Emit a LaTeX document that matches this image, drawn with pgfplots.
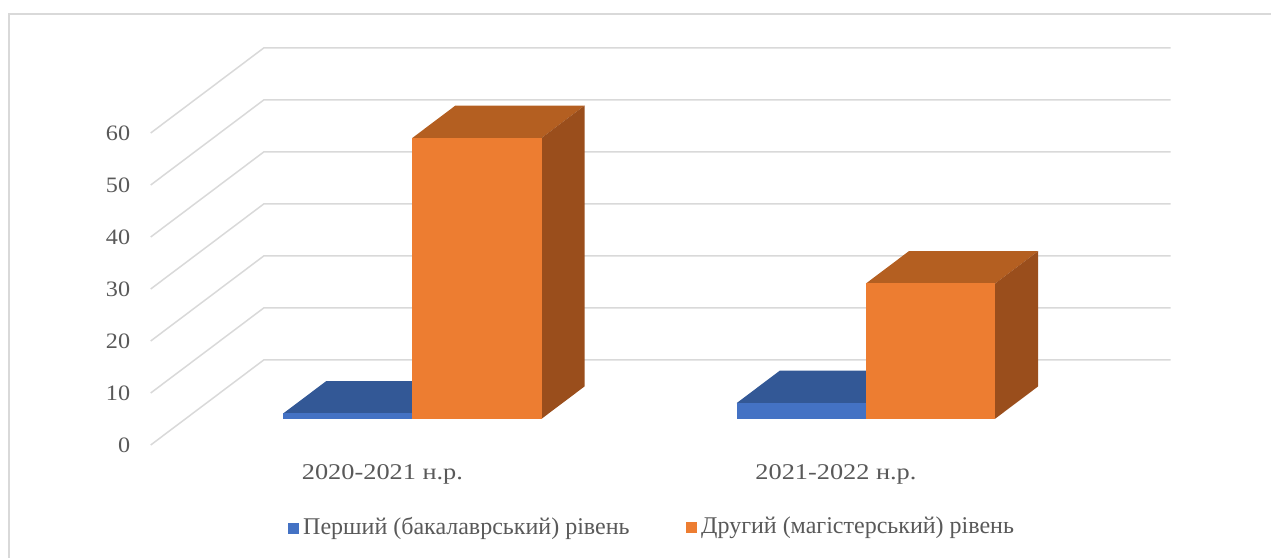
\documentclass[border=0pt]{standalone}
\usepackage{pgfplots}
\pgfplotsset{compat=1.18}
\usepackage{fontspec}
\setmainfont{Liberation Serif}
\definecolor{bfront}{HTML}{4472C4}
\definecolor{btop}{HTML}{335896}
\definecolor{ofront}{HTML}{ED7D31}
\definecolor{otop}{HTML}{B45F21}
\definecolor{oside}{HTML}{9A4E1C}
\definecolor{gridc}{HTML}{D9D9D9}
\definecolor{txt}{HTML}{595959}
% bar depth from d0 to d1
\newcommand{\dA}{0.31}
\newcommand{\dB}{0.69}
\newcommand{\blueBar}[3]{%
  \addplot3[fill=btop, draw=none, forget plot] coordinates {(#1,\dA,#3) (#2,\dA,#3) (#2,\dB,#3) (#1,\dB,#3)};
  \addplot3[fill=bfront, draw=none, forget plot] coordinates {(#1,\dA,0) (#2,\dA,0) (#2,\dA,#3) (#1,\dA,#3)};
}
\newcommand{\orangeBar}[3]{%
  \addplot3[fill=otop, draw=none, forget plot] coordinates {(#1,\dA,#3) (#2,\dA,#3) (#2,\dB,#3) (#1,\dB,#3)};
  \addplot3[fill=oside, draw=none, forget plot] coordinates {(#2,\dA,0) (#2,\dB,0) (#2,\dB,#3) (#2,\dA,#3)};
  \addplot3[fill=ofront, draw=none, forget plot] coordinates {(#1,\dA,0) (#2,\dA,0) (#2,\dA,#3) (#1,\dA,#3)};
}
\begin{document}
\begin{tikzpicture}[x=1bp,y=1bp]
\begin{axis}[
  x={(453.5bp,0bp)}, y={(113bp,85bp)}, z={(0bp,5.2bp)},
  xmin=0, xmax=2, ymin=0, ymax=1, zmin=0, zmax=60,
  hide axis, clip=false,
]
\coordinate (O) at (axis cs:0,0,0);
% gridlines (left wall + back wall)
\pgfplotsinvokeforeach{0,10,20,30,40,50,60}{
  \addplot3[color=gridc, line width=1.5bp, forget plot] coordinates {(0,0,#1) (0,1,#1) (2,1,#1)};
  \node[anchor=east, text=txt, font=\fontsize{22bp}{26bp}\selectfont, xshift=-17bp] at (axis cs:0,0,#1) {\scalebox{1.1}[1]{#1}};
}
% 2020-2021: Перший = 1, Другий = 54
\blueBar{0.215}{0.5}{1}
\orangeBar{0.5}{0.785}{54}
% 2021-2022: Перший = 3, Другий = 26
\blueBar{1.215}{1.5}{3}
\orangeBar{1.5}{1.785}{26}
% category labels
\node[text=txt, font=\fontsize{22.5bp}{27bp}\selectfont, yshift=-29bp, xshift=5bp] at (axis cs:0.5,0,0) {\scalebox{1.17}[1]{2020-2021 н.р.}};
\node[text=txt, font=\fontsize{22.5bp}{27bp}\selectfont, yshift=-29bp, xshift=5bp] at (axis cs:1.5,0,0) {\scalebox{1.17}[1]{2021-2022 н.р.}};
\end{axis}
\begin{scope}[shift={(O)}, xshift=-150.7bp, yshift=445bp]
\draw[color=gridc, line width=1.5bp] (9,-558) -- (9,-14) -- (1271,-14);
% legend
\node[anchor=west, text=txt, font=\fontsize{24bp}{28bp}\selectfont, inner sep=0pt] at (288,-528)
  {\textcolor{bfront}{\rule[0.5bp]{11bp}{11bp}}\hspace{4bp}Перший (бакалаврський) рівень};
\node[anchor=west, text=txt, font=\fontsize{24bp}{28bp}\selectfont, inner sep=0pt] at (686,-528)
  {\textcolor{ofront}{\rule[0.5bp]{11bp}{11bp}}\hspace{4bp}Другий (магістерський) рівень};
\pgfresetboundingbox
\path[use as bounding box] (0,0) rectangle (1271,-558);
\end{scope}
\end{tikzpicture}
\end{document}
